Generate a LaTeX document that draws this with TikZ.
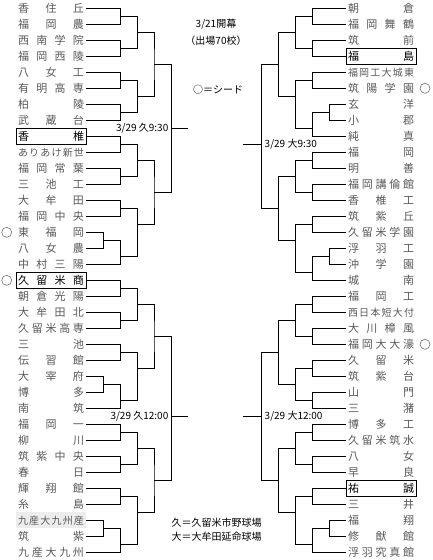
\documentclass[tikz,border=0pt]{standalone}
\usepackage{fontspec}
\setmainfont{Noto Sans CJK JP}
\begin{document}
\begin{tikzpicture}[x=1pt,y=-1pt,
  nm/.style={inner xsep=2pt,inner ysep=0pt,minimum height=16pt,text=black!65,font=\fontsize{11}{11}\selectfont},
  bx/.style={draw,line width=0.8pt,text=black},
  sm/.style={font=\fontsize{10}{10}\selectfont},
  ln/.style={line width=1pt},
  lbl/.style={inner sep=0pt,font=\fontsize{10}{10}\selectfont},
  seed/.style={draw=black!55,line width=0.6pt,circle,minimum size=10pt,inner sep=0pt}]
\useasboundingbox (0,0) rectangle (433,560);
\newcommand\jn[1]{\makebox[66pt][s]{#1}}
\newcommand\LN[3][]{\node[nm,#1] (L#2) at (51,{8.3+16*#2}) {\jn{#3}};}
\newcommand\RN[3][]{\node[nm,#1] (R#2) at (381,{8.3+16*#2}) {\jn{#3}};}
\newcommand\mt[3]{\draw[ln] (#2) -| (#1) |- (#3);}
% left names
\LN{0}{香\hfill 住\hfill 丘}
\LN{1}{福\hfill 岡\hfill 農}
\LN{2}{西\hfill 南\hfill 学\hfill 院}
\LN{3}{福\hfill 岡\hfill 西\hfill 陵}
\LN{4}{八\hfill 女\hfill 工}
\LN{5}{有\hfill 明\hfill 高\hfill 専}
\LN{6}{柏\hfill 陵}
\LN{7}{武\hfill 蔵\hfill 台}
\LN[bx]{8}{香\hfill 椎}
\LN[sm]{9}{あ\hfill り\hfill あ\hfill け\hfill 新\hfill 世}
\LN{10}{福\hfill 岡\hfill 常\hfill 葉}
\LN{11}{三\hfill 池\hfill 工}
\LN{12}{大\hfill 牟\hfill 田}
\LN{13}{福\hfill 岡\hfill 中\hfill 央}
\LN{14}{東\hfill 福\hfill 岡}
\LN{15}{八\hfill 女\hfill 農}
\LN{16}{中\hfill 村\hfill 三\hfill 陽}
\LN[bx]{17}{久\hfill 留\hfill 米\hfill 商}
\LN{18}{朝\hfill 倉\hfill 光\hfill 陽}
\LN{19}{大\hfill 牟\hfill 田\hfill 北}
\LN{20}{久\hfill 留\hfill 米\hfill 高\hfill 専}
\LN{21}{三\hfill 池}
\LN{22}{伝\hfill 習\hfill 館}
\LN{23}{大\hfill 宰\hfill 府}
\LN{24}{博\hfill 多}
\LN{25}{南\hfill 筑}
\LN{26}{福\hfill 岡\hfill 一}
\LN{27}{柳\hfill 川}
\LN{28}{筑\hfill 紫\hfill 中\hfill 央}
\LN{29}{春\hfill 日}
\LN{30}{輝\hfill 翔\hfill 館}
\LN{31}{糸\hfill 島}
\LN[sm,fill=black!7]{32}{九\hfill 産\hfill 大\hfill 九\hfill 州\hfill 産}
\LN{33}{筑\hfill 紫}
\LN{34}{九\hfill 産\hfill 大\hfill 九\hfill 州}
% right names
\RN{0}{朝\hfill 倉}
\RN{1}{福\hfill 岡\hfill 舞\hfill 鶴}
\RN{2}{筑\hfill 前}
\RN[bx]{3}{福\hfill 島}
\RN[sm]{4}{福\hfill 岡\hfill 工\hfill 大\hfill 城\hfill 東}
\RN{5}{筑\hfill 陽\hfill 学\hfill 園}
\RN{6}{玄\hfill 洋}
\RN{7}{小\hfill 郡}
\RN{8}{純\hfill 真}
\RN{9}{福\hfill 岡}
\RN{10}{明\hfill 善}
\RN{11}{福\hfill 岡\hfill 講\hfill 倫\hfill 館}
\RN{12}{香\hfill 椎\hfill 工}
\RN{13}{筑\hfill 紫\hfill 丘}
\RN{14}{久\hfill 留\hfill 米\hfill 学\hfill 園}
\RN{15}{浮\hfill 羽\hfill 工}
\RN{16}{沖\hfill 学\hfill 園}
\RN{17}{城\hfill 南}
\RN{18}{福\hfill 岡\hfill 工}
\RN[sm]{19}{西\hfill 日\hfill 本\hfill 短\hfill 大\hfill 付}
\RN{20}{大\hfill 川\hfill 樟\hfill 風}
\RN{21}{福\hfill 岡\hfill 大\hfill 大\hfill 濠}
\RN{22}{久\hfill 留\hfill 米}
\RN{23}{筑\hfill 紫\hfill 台}
\RN{24}{山\hfill 門}
\RN{25}{三\hfill 潴}
\RN{26}{博\hfill 多\hfill 工}
\RN{27}{久\hfill 留\hfill 米\hfill 筑\hfill 水}
\RN{28}{八\hfill 女}
\RN{29}{早\hfill 良}
\RN[bx]{30}{祐\hfill 誠}
\RN{31}{三\hfill 井}
\RN{32}{福\hfill 翔}
\RN{33}{修\hfill 猷\hfill 館}
\RN{34}{浮\hfill 羽\hfill 究\hfill 真\hfill 館}
% seeds
\node[seed] (sL14) at (6.7,232.3) {};
\node[seed] (sL17) at (6.7,280.3) {};
\node[seed] (sR5) at (425,88.3) {};
\node[seed] (sR21) at (425,344.3) {};
% left junctions
\coordinate (A1) at (120.7,16.3);  \coordinate (A2) at (120.7,48.3);
\coordinate (A3) at (137.3,32.3);  \coordinate (A4) at (120.7,80.3);
\coordinate (A5) at (120.7,112.3); \coordinate (A6) at (137.3,96.3);
\coordinate (A7) at (154,64.3);
\coordinate (B1) at (120.7,144.3); \coordinate (B2) at (120.7,176.3);
\coordinate (B3) at (137.3,160.3); \coordinate (B4) at (120.7,208.3);
\coordinate (Bp) at (103.3,240.3); \coordinate (B5) at (120.7,256.3);
\coordinate (B6) at (137.3,224.3); \coordinate (B7) at (154,192.3);
\coordinate (LT) at (171.3,128.3); \coordinate (LTe) at (188,128.3);
\coordinate (C1) at (120.7,288.3); \coordinate (C2) at (120.7,320.3);
\coordinate (C3) at (137.3,304.3); \coordinate (C4) at (120.7,352.3);
\coordinate (Cp) at (103.3,384.3); \coordinate (C5) at (120.7,400.3);
\coordinate (C6) at (137.3,368.3); \coordinate (C7) at (154,336.3);
\coordinate (D1) at (120.7,432.3); \coordinate (D2) at (120.7,464.3);
\coordinate (D3) at (137.3,448.3); \coordinate (D4) at (120.7,496.3);
\coordinate (Dp) at (103.3,528.3); \coordinate (D5) at (120.7,544.3);
\coordinate (D6) at (137.3,512.3); \coordinate (D7) at (154,480.3);
\coordinate (LB) at (171.3,416.3); \coordinate (LBe) at (188,416.3);
% right junctions
\coordinate (E1) at (312.3,16.3);  \coordinate (E2) at (312.3,48.3);
\coordinate (E3) at (295.3,32.3);  \coordinate (E4) at (312.3,80.3);
\coordinate (Ep) at (329.5,112.3); \coordinate (E5) at (312.3,128.3);
\coordinate (E6) at (295.3,96.3);  \coordinate (E7) at (278.5,64.3);
\coordinate (F1) at (312.3,160.3); \coordinate (F2) at (312.3,192.3);
\coordinate (F3) at (295.3,176.3); \coordinate (F4) at (312.3,224.3);
\coordinate (Fp) at (329.5,256.3); \coordinate (F5) at (312.3,272.3);
\coordinate (F6) at (295.3,240.3); \coordinate (F7) at (278.5,208.3);
\coordinate (RT) at (261.7,144.3); \coordinate (RTe) at (243.3,144.3);
\coordinate (G1) at (312.3,304.3); \coordinate (G2) at (312.3,336.3);
\coordinate (G3) at (295.3,320.3); \coordinate (G4) at (312.3,368.3);
\coordinate (G5) at (312.3,400.3); \coordinate (G6) at (295.3,384.3);
\coordinate (G7) at (278.5,352.3);
\coordinate (H1) at (312.3,432.3); \coordinate (H2) at (312.3,464.3);
\coordinate (H3) at (295.3,448.3); \coordinate (H4) at (312.3,496.3);
\coordinate (Hp) at (329.5,528.3); \coordinate (H5) at (312.3,544.3);
\coordinate (H6) at (295.3,512.3); \coordinate (H7) at (278.5,480.3);
\coordinate (RB) at (261.7,416.3); \coordinate (RBe) at (243.3,416.3);
% left bracket
\mt{A1}{L0.east}{L1.east} \mt{A2}{L2.east}{L3.east} \mt{A3}{A1}{A2}
\mt{A4}{L4.east}{L5.east} \mt{A5}{L6.east}{L7.east} \mt{A6}{A4}{A5}
\mt{A7}{A3}{A6}
\mt{B1}{L8.east}{L9.east} \mt{B2}{L10.east}{L11.east} \mt{B3}{B1}{B2}
\mt{B4}{L12.east}{L13.east} \mt{Bp}{L14.east}{L15.east} \mt{B5}{Bp}{L16.east}
\mt{B6}{B4}{B5} \mt{B7}{B3}{B6}
\mt{LT}{A7}{B7} \draw[ln] (LT) -- (LTe);
\mt{C1}{L17.east}{L18.east} \mt{C2}{L19.east}{L20.east} \mt{C3}{C1}{C2}
\mt{C4}{L21.east}{L22.east} \mt{Cp}{L23.east}{L24.east} \mt{C5}{Cp}{L25.east}
\mt{C6}{C4}{C5} \mt{C7}{C3}{C6}
\mt{D1}{L26.east}{L27.east} \mt{D2}{L28.east}{L29.east} \mt{D3}{D1}{D2}
\mt{D4}{L30.east}{L31.east} \mt{Dp}{L32.east}{L33.east} \mt{D5}{Dp}{L34.east}
\mt{D6}{D4}{D5} \mt{D7}{D3}{D6}
\mt{LB}{C7}{D7} \draw[ln] (LB) -- (LBe);
% right bracket
\mt{E1}{R0.west}{R1.west} \mt{E2}{R2.west}{R3.west} \mt{E3}{E1}{E2}
\mt{E4}{R4.west}{R5.west} \mt{Ep}{R6.west}{R7.west} \mt{E5}{Ep}{R8.west}
\mt{E6}{E4}{E5} \mt{E7}{E3}{E6}
\mt{F1}{R9.west}{R10.west} \mt{F2}{R11.west}{R12.west} \mt{F3}{F1}{F2}
\mt{F4}{R13.west}{R14.west} \mt{Fp}{R15.west}{R16.west} \mt{F5}{Fp}{R17.west}
\mt{F6}{F4}{F5} \mt{F7}{F3}{F6}
\mt{RT}{E7}{F7} \draw[ln] (RT) -- (RTe);
\mt{G1}{R18.west}{R19.west} \mt{G2}{R20.west}{R21.west} \mt{G3}{G1}{G2}
\mt{G4}{R22.west}{R23.west} \mt{G5}{R24.west}{R25.west} \mt{G6}{G4}{G5}
\mt{G7}{G3}{G6}
\mt{H1}{R26.west}{R27.west} \mt{H2}{R28.west}{R29.west} \mt{H3}{H1}{H2}
\mt{H4}{R30.west}{R31.west} \mt{Hp}{R32.west}{R33.west} \mt{H5}{Hp}{R34.west}
\mt{H6}{H4}{H5} \mt{H7}{H3}{H6}
\mt{RB}{G7}{H7} \draw[ln] (RB) -- (RBe);
% labels
\node[lbl,anchor=east] (tLT) at (168.5,128) {3/29 久9:30};
\node[lbl,anchor=west] (tRT) at (264.5,144) {3/29 大9:30};
\node[lbl,anchor=east] (tLB) at (168.5,416) {3/29 久12:00};
\node[lbl,anchor=west] (tRB) at (264.5,416) {3/29 大12:00};
\node[lbl] (t1) at (216,24) {3/21開幕};
\node[lbl] (t2) at (216,40.5) {（出場70校）};
\node[lbl] (t3) at (218,89.5) {○＝シード};
\node[lbl] (t4) at (216.5,522.7) {久＝久留米市野球場};
\node[lbl] (t5) at (216.5,536.5) {大＝大牟田延命球場};
\end{tikzpicture}
\end{document}
